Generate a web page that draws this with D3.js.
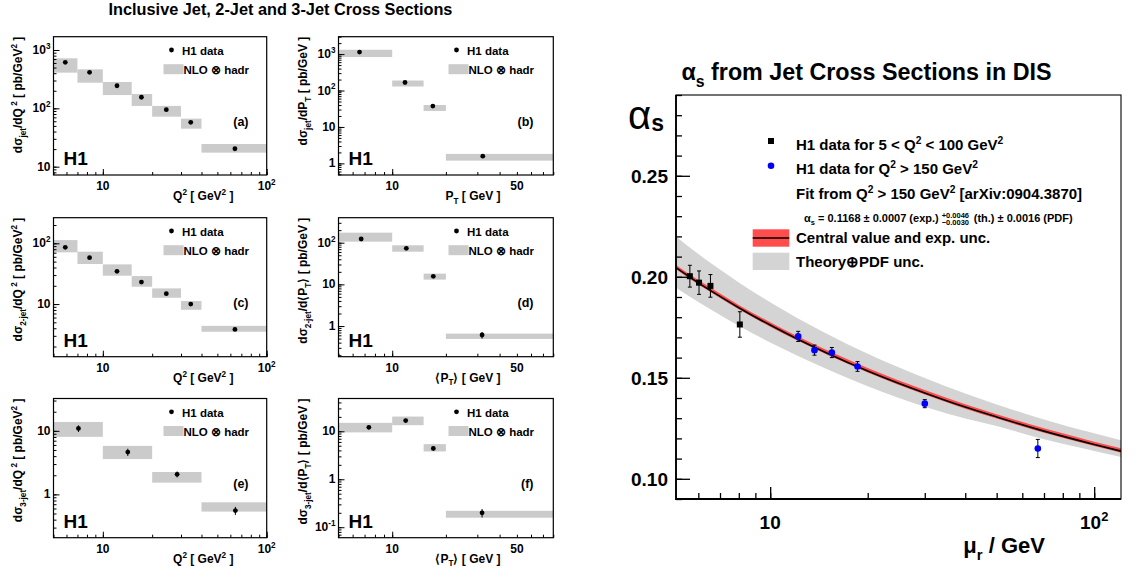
<!DOCTYPE html>
<html>
<head>
<meta charset="utf-8">
<script src="https://cdn.jsdelivr.net/npm/d3@7"></script>
<style>
  body { margin: 0; background: #fff; }
  svg { display: block; font-family: "Liberation Sans", Arial, Helvetica, sans-serif; font-weight: bold; }
  svg text { white-space: pre; }
</style>
</head>
<body>
<svg width="1135" height="572"></svg>
<script>
// ---- data: six cross section panels ----
const q2Bins7 = [5, 7, 10, 15, 20, 30, 40, 100];
const q2Bins4 = [5, 10, 20, 40, 100];
const ptBins4 = [5, 10, 15, 20, 80];

// (a) inclusive jet vs Q2
const jetQ2X = [5.9, 8.3, 12.2, 17.2, 24.4, 34.4, 64];
const jetQ2Data = [615, 414, 244, 155, 95, 57.5, 20.3];
const jetQ2Err = [12, 8, 5, 3, 2, 1.2, 0.5];
const jetQ2NloLo = [409, 275, 169, 110, 72, 44.8, 17.4];
const jetQ2NloHi = [720, 466, 283, 176, 110, 66.5, 24.5];

// (b) inclusive jet vs PT
const jetPtX = [6.56, 11.8, 16.9, 32.2];
const jetPtData = [1135, 166, 37.3, 1.58];
const jetPtErr = [25, 4, 1, 0.06];
const jetPtNloLo = [828, 129, 27.5, 1.19];
const jetPtNloHi = [1313, 188, 40, 1.82];

// (c) 2-jet vs Q2
const dijetQ2X = [5.9, 8.3, 12.2, 17.2, 24.4, 34.4, 64];
const dijetQ2Data = [85.9, 58, 34.6, 23, 14.8, 10, 3.83];
const dijetQ2Err = [2, 1.3, 0.8, 0.5, 0.3, 0.25, 0.1];
const dijetQ2NloLo = [71, 45.6, 29.3, 19.3, 12.7, 8.06, 3.5];
const dijetQ2NloHi = [113, 72.8, 45, 28.9, 18.1, 11.2, 4.38];

// (d) 2-jet vs <PT>
const dijetPtX = [6.7, 12.0, 17.0, 31.9];
const dijetPtData = [122.6, 73.5, 15.6, 0.61];
const dijetPtErr = [4, 3, 0.7, 0.11];
const dijetPtNloLo = [106, 60.8, 13, 0.491];
const dijetPtNloHi = [174, 86.6, 18.1, 0.658];

// (e) 3-jet vs Q2
const trijetQ2X = [7.1, 14.2, 28.4, 64.4];
const trijetQ2Data = [10.9, 4.63, 2.07, 0.555];
const trijetQ2Err = [1.3, 0.6, 0.22, 0.08];
const trijetQ2NloLo = [8.05, 3.6, 1.53, 0.536];
const trijetQ2NloHi = [13.8, 5.8, 2.25, 0.75];

// (f) 3-jet vs <PT>
const trijetPtX = [7.4, 11.9, 17.0, 31.9];
const trijetPtData = [12.1, 16.7, 4.4, 0.2];
const trijetPtErr = [1.2, 1.5, 0.5, 0.04];
const trijetPtNloLo = [9.5, 13.4, 3.8, 0.158];
const trijetPtNloHi = [15, 20.3, 5.4, 0.22];

// ---- data: alpha_s panel ----
const lowQ2Mu = [5.65, 6.03, 6.54, 8.06];
const lowQ2As = [0.2003, 0.1971, 0.1955, 0.1764];
const lowQ2Err = [0.0054, 0.0058, 0.0056, 0.0063];

const highQ2Mu = [12.2, 13.7, 15.5, 18.6, 30.0, 67.0];
const highQ2As = [0.1705, 0.1637, 0.1625, 0.1556, 0.1372, 0.1150];
const highQ2Err = [0.0025, 0.0025, 0.0025, 0.0024, 0.0020, 0.0045];

const fitMu =     [5.12, 6, 7, 8, 10, 12, 15, 20, 30, 40, 50, 70, 100, 121];
const fitAs =     [0.2045, 0.1970, 0.1903, 0.1847, 0.1761, 0.1696, 0.1622, 0.1534, 0.1425, 0.1355, 0.1306, 0.1236, 0.1170, 0.1137];
const fitExpHi =  [0.2059, 0.1984, 0.1917, 0.1861, 0.1775, 0.1710, 0.1636, 0.1548, 0.1439, 0.1369, 0.1320, 0.1250, 0.1184, 0.1151];
const fitExpLo =  [0.2037, 0.1962, 0.1895, 0.1839, 0.1753, 0.1688, 0.1614, 0.1526, 0.1417, 0.1347, 0.1298, 0.1228, 0.1162, 0.1129];
const fitTheoHi = [0.2200, 0.2113, 0.2036, 0.1972, 0.1874, 0.1800, 0.1717, 0.1619, 0.1499, 0.1422, 0.1368, 0.1294, 0.1225, 0.1191];
const fitTheoLo = [0.1946, 0.1875, 0.1811, 0.1758, 0.1675, 0.1613, 0.1542, 0.1458, 0.1357, 0.1299, 0.1261, 0.1196, 0.1138, 0.1108];

const asMajorTicks = [0.10, 0.15, 0.20, 0.25];

const svg = d3.select('svg');

// text with _{sub} and ^{sup} markup
const rich = (sel, str, size) => {
  const re = /([_^])\{([^}]*)\}/g;
  let last = 0, shift = 0, m;
  sel.attr('font-size', size);
  const add = (t, lvl) => {
    if (!t) return;
    const target = lvl === '_' ? size * 0.3 : lvl === '^' ? -size * 0.42 : 0;
    sel.append('tspan')
      .attr('dy', target - shift)
      .attr('font-size', lvl ? size * 0.68 : size)
      .text(t);
    shift = target;
  };
  while ((m = re.exec(str))) {
    add(str.slice(last, m.index), '');
    add(m[2], m[1]);
    last = re.lastIndex;
  }
  add(str.slice(last), '');
  return sel;
};

svg.append('text')
  .attr('x', 280.5)
  .attr('y', 15)
  .attr('text-anchor', 'middle')
  .attr('font-size', 16.3)
  .text('Inclusive Jet, 2-Jet and 3-Jet Cross Sections');

const colQ2 = { left: 53.5, right: 266.7 };
const colPt = { left: 338.5, right: 553.3 };
const rows = [{ top: 36.7, bottom: 175 }, { top: 217.7, bottom: 356.7 }, { top: 398.5, bottom: 537.7 }];

const panels = [
  { col: colQ2, row: rows[0], tag: '(a)', bins: q2Bins7, xs: jetQ2X, ys: jetQ2Data, err: jetQ2Err, lo: jetQ2NloLo, hi: jetQ2NloHi,
    xDomain: [5, 100], yDomain: [7.2, 1690], xLabels: [[10, '10'], [100, '10^{2}']],
    yLabels: [[10, '10'], [100, '10^{2}'], [1000, '10^{3}']],
    yTitle: 'dσ_{jet}/dQ^{ 2} [ pb/GeV^{2} ]', xTitle: 'Q^{2} [ GeV^{2} ]' },
  { col: colPt, row: rows[0], tag: '(b)', bins: ptBins4, xs: jetPtX, ys: jetPtData, err: jetPtErr, lo: jetPtNloLo, hi: jetPtNloHi,
    xDomain: [5, 80], yDomain: [0.48, 3000], xLabels: [[10, '10'], [50, '50']],
    yLabels: [[1, '1'], [10, '10'], [100, '10^{2}'], [1000, '10^{3}']],
    yTitle: 'dσ_{jet}/dP_{T} [ pb/GeV ]', xTitle: 'P_{T} [ GeV ]' },
  { col: colQ2, row: rows[1], tag: '(c)', bins: q2Bins7, xs: dijetQ2X, ys: dijetQ2Data, err: dijetQ2Err, lo: dijetQ2NloLo, hi: dijetQ2NloHi,
    xDomain: [5, 100], yDomain: [1.36, 264], xLabels: [[10, '10'], [100, '10^{2}']],
    yLabels: [[10, '10'], [100, '10^{2}']],
    yTitle: 'dσ_{2-jet}/dQ^{ 2} [ pb/GeV^{2} ]', xTitle: 'Q^{2} [ GeV^{2} ]' },
  { col: colPt, row: rows[1], tag: '(d)', bins: ptBins4, xs: dijetPtX, ys: dijetPtData, err: dijetPtErr, lo: dijetPtNloLo, hi: dijetPtNloHi,
    xDomain: [5, 80], yDomain: [0.184, 398], xLabels: [[10, '10'], [50, '50']],
    yLabels: [[1, '1'], [10, '10'], [100, '10^{2}']],
    yTitle: 'dσ_{2-jet}/d⟨P_{T}⟩ [ pb/GeV ]', xTitle: '⟨P_{T}⟩ [ GeV ]' },
  { col: colQ2, row: rows[2], tag: '(e)', bins: q2Bins4, xs: trijetQ2X, ys: trijetQ2Data, err: trijetQ2Err, lo: trijetQ2NloLo, hi: trijetQ2NloHi,
    xDomain: [5, 100], yDomain: [0.208, 32.3], xLabels: [[10, '10'], [100, '10^{2}']],
    yLabels: [[1, '1'], [10, '10']],
    yTitle: 'dσ_{3-jet}/dQ^{ 2} [ pb/GeV^{2} ]', xTitle: 'Q^{2} [ GeV^{2} ]' },
  { col: colPt, row: rows[2], tag: '(f)', bins: ptBins4, xs: trijetPtX, ys: trijetPtData, err: trijetPtErr, lo: trijetPtNloLo, hi: trijetPtNloHi,
    xDomain: [5, 80], yDomain: [0.0605, 48.3], xLabels: [[10, '10'], [50, '50']],
    yLabels: [[0.1, '10^{-1}'], [1, '1'], [10, '10']],
    yTitle: 'dσ_{3-jet}/d⟨P_{T}⟩ [ pb/GeV ]', xTitle: '⟨P_{T}⟩ [ GeV ]' },
];

const drawPanel = p => {
  const { left, right } = p.col;
  const { top, bottom } = p.row;
  const x = d3.scaleLog().domain(p.xDomain).range([left, right]);
  const y = d3.scaleLog().domain(p.yDomain).range([bottom, top]);
  const g = svg.append('g');

  g.selectAll('rect.nlo').data(p.lo).join('rect')
    .attr('class', 'nlo')
    .attr('x', (d, i) => x(p.bins[i]))
    .attr('width', (d, i) => x(p.bins[i + 1]) - x(p.bins[i]))
    .attr('y', (d, i) => y(p.hi[i]))
    .attr('height', (d, i) => y(d) - y(p.hi[i]))
    .attr('fill', '#cbcbcb');

  g.selectAll('line.err').data(p.ys).join('line')
    .attr('class', 'err')
    .attr('x1', (d, i) => x(p.xs[i]))
    .attr('x2', (d, i) => x(p.xs[i]))
    .attr('y1', (d, i) => y(d + p.err[i]))
    .attr('y2', (d, i) => y(Math.max(d - p.err[i], p.yDomain[0])))
    .attr('stroke', 'black')
    .attr('stroke-width', 1);

  g.selectAll('circle.pt').data(p.ys).join('circle')
    .attr('class', 'pt')
    .attr('cx', (d, i) => x(p.xs[i]))
    .attr('cy', d => y(d))
    .attr('r', 2.4)
    .attr('fill', 'black');

  // ticks: minor then major, pointing inside the frame
  const xMajor = [10, 100].filter(v => v <= p.xDomain[1]);
  const yMajor = y.ticks().filter(v => Math.abs(Math.log10(v) - Math.round(Math.log10(v))) < 1e-9);
  const tickAxis = (axis, vals, size, tr) => g.append('g')
    .attr('transform', tr)
    .call(axis.tickValues(vals).tickSize(-size).tickFormat(''))
    .call(a => a.select('.domain').remove());
  tickAxis(d3.axisBottom(x), x.ticks(), 3, `translate(0,${bottom})`);
  tickAxis(d3.axisBottom(x), xMajor, 6, `translate(0,${bottom})`);
  tickAxis(d3.axisLeft(y), y.ticks(), 3, `translate(${left},0)`);
  tickAxis(d3.axisLeft(y), yMajor, 6, `translate(${left},0)`);

  g.append('rect')
    .attr('x', left).attr('y', top)
    .attr('width', right - left).attr('height', bottom - top)
    .attr('fill', 'none').attr('stroke', 'black').attr('stroke-width', 1.2);

  p.xLabels.forEach(([v, s]) => {
    rich(g.append('text').attr('x', x(v)).attr('y', bottom + 15).attr('text-anchor', 'middle'), s, 12);
  });
  p.yLabels.forEach(([v, s]) => {
    rich(g.append('text').attr('x', left - 3).attr('y', y(v) + 4).attr('text-anchor', 'end'), s, 12);
  });

  rich(g.append('text')
    .attr('transform', `translate(${left - 31.5},${top}) rotate(-90)`)
    .attr('text-anchor', 'end'), p.yTitle, 12);
  rich(g.append('text')
    .attr('x', left + (p.col === colQ2 ? 180 : 162))
    .attr('y', bottom + 25)
    .attr('text-anchor', 'end'), p.xTitle, 12);

  // legend
  g.append('circle').attr('cx', left + 118).attr('cy', top + 13.3).attr('r', 2.4).attr('fill', 'black');
  g.append('text').attr('x', left + 128.5).attr('y', top + 18).attr('font-size', 11.5).text('H1 data');
  g.append('rect').attr('x', left + 110).attr('y', top + 27.5).attr('width', 20).attr('height', 10).attr('fill', '#cbcbcb');
  g.append('text').attr('x', left + 130).attr('y', top + 37).attr('font-size', 11.5).text('NLO ⊗ hadr');

  g.append('text').attr('x', left + 195).attr('y', top + 89).attr('text-anchor', 'end')
    .attr('font-size', 12.5).text(p.tag);
  g.append('text').attr('x', left + 10).attr('y', bottom - 10).attr('font-size', 19).text('H1');
};

panels.forEach(drawPanel);

// ---- alpha_s panel ----
const frame = { left: 676, right: 1121, top: 95, bottom: 499 };
const xMu = d3.scaleLog().domain([5.12, 121]).range([frame.left, frame.right]);
const yAs = d3.scaleLinear().domain([0.09, 0.29]).range([frame.bottom, frame.top]);
const fitIdx = d3.range(fitMu.length);

const ga = svg.append('g');

ga.append('path')
  .attr('d', d3.area()
    .x(i => xMu(fitMu[i]))
    .y0(i => yAs(fitTheoLo[i]))
    .y1(i => yAs(fitTheoHi[i]))
    .curve(d3.curveMonotoneX)(fitIdx))
  .attr('fill', '#d4d4d4');

ga.append('path')
  .attr('d', d3.area()
    .x(i => xMu(fitMu[i]))
    .y0(i => yAs(fitExpLo[i]))
    .y1(i => yAs(fitExpHi[i]))
    .curve(d3.curveMonotoneX)(fitIdx))
  .attr('fill', '#ff4d4d');

ga.append('path')
  .attr('d', d3.line()
    .x(i => xMu(fitMu[i]))
    .y(i => yAs(fitAs[i]))
    .curve(d3.curveMonotoneX)(fitIdx))
  .attr('fill', 'none')
  .attr('stroke', 'black')
  .attr('stroke-width', 1.6);

const errBars = (mus, vals, errs) => {
  mus.forEach((m, i) => {
    const cx = xMu(m);
    const y1 = yAs(vals[i] + errs[i]);
    const y2 = yAs(vals[i] - errs[i]);
    ga.append('line').attr('x1', cx).attr('x2', cx).attr('y1', y1).attr('y2', y2).attr('stroke', 'black').attr('stroke-width', 1);
    [y1, y2].forEach(yy => ga.append('line').attr('x1', cx - 2).attr('x2', cx + 2).attr('y1', yy).attr('y2', yy).attr('stroke', 'black').attr('stroke-width', 1));
  });
};
errBars(lowQ2Mu, lowQ2As, lowQ2Err);
errBars(highQ2Mu, highQ2As, highQ2Err);

ga.selectAll('rect.low').data(lowQ2As).join('rect')
  .attr('class', 'low')
  .attr('x', (d, i) => xMu(lowQ2Mu[i]) - 3)
  .attr('y', d => yAs(d) - 3)
  .attr('width', 6).attr('height', 6)
  .attr('fill', 'black');

ga.selectAll('circle.high').data(highQ2As).join('circle')
  .attr('class', 'high')
  .attr('cx', (d, i) => xMu(highQ2Mu[i]))
  .attr('cy', d => yAs(d))
  .attr('r', 3.3)
  .attr('fill', '#0000ff');

// axes ticks
const tickA = (axis, vals, size, tr) => ga.append('g')
  .attr('transform', tr)
  .call(axis.tickValues(vals).tickSize(-size).tickFormat(''))
  .call(a => a.select('.domain').remove())
  .call(a => a.selectAll('line').attr('stroke-width', 1.3));
tickA(d3.axisBottom(xMu), xMu.ticks(), 6, `translate(0,${frame.bottom})`);
tickA(d3.axisBottom(xMu), [10, 100], 12, `translate(0,${frame.bottom})`);
tickA(d3.axisLeft(yAs), yAs.ticks(20), 6, `translate(${frame.left},0)`);
tickA(d3.axisLeft(yAs), asMajorTicks, 14, `translate(${frame.left},0)`);

ga.append('rect')
  .attr('x', frame.left).attr('y', frame.top)
  .attr('width', frame.right - frame.left).attr('height', frame.bottom - frame.top)
  .attr('fill', 'none').attr('stroke', 'black').attr('stroke-width', 1.1);
ga.append('path')
  .attr('d', `M${frame.left},${frame.top}V${frame.bottom}H${frame.right}`)
  .attr('fill', 'none').attr('stroke', 'black').attr('stroke-width', 1.8);

asMajorTicks.forEach(v => {
  ga.append('text').attr('x', 668).attr('y', yAs(v) + 7).attr('text-anchor', 'end')
    .attr('font-size', 19).text(d3.format('.2f')(v));
});
rich(ga.append('text').attr('x', xMu(10)).attr('y', 529).attr('text-anchor', 'middle'), '10', 19);
rich(ga.append('text').attr('x', xMu(100)).attr('y', 529).attr('text-anchor', 'middle'), '10^{2}', 19);

rich(ga.append('text').attr('x', 1045).attr('y', 553).attr('text-anchor', 'end'), 'μ_{r} / GeV', 22);

const asLabel = ga.append('text').attr('x', 628).attr('y', 129);
asLabel.append('tspan').attr('font-size', 40).attr('font-weight', 'normal').text('α');
asLabel.append('tspan').attr('font-size', 23).attr('dy', 2).text('s');

rich(ga.append('text').attr('x', 866.5).attr('y', 80).attr('text-anchor', 'middle'),
  'α_{s} from Jet Cross Sections in DIS', 23.3);

// legend
ga.append('rect').attr('x', 768).attr('y', 138).attr('width', 6).attr('height', 6).attr('fill', 'black');
rich(ga.append('text').attr('x', 796).attr('y', 150), 'H1 data for 5 < Q^{2} < 100 GeV^{2}', 15);
ga.append('circle').attr('cx', 771).attr('cy', 165.7).attr('r', 3.3).attr('fill', '#0000ff');
rich(ga.append('text').attr('x', 796).attr('y', 174), 'H1 data for Q^{2} > 150 GeV^{2}', 15);
rich(ga.append('text').attr('x', 796).attr('y', 199), 'Fit from Q^{2} > 150 GeV^{2} [arXiv:0904.3870]', 15);

const l4a = rich(ga.append('text').attr('x', 804).attr('y', 221.5), 'α_{s} = 0.1168 ± 0.0007 (exp.)', 11);
const w4 = l4a.node().getComputedTextLength();
const sx = 804 + w4 + 3;
ga.append('text').attr('x', sx).attr('y', 217.5).attr('font-size', 7.5).text('+0.0046');
ga.append('text').attr('x', sx).attr('y', 224.8).attr('font-size', 7.5).text('−0.0030');
rich(ga.append('text').attr('x', sx + 29), ' (th.) ± 0.0016 (PDF)', 11).attr('y', 221.5);

ga.append('rect').attr('x', 752.7).attr('y', 229.3).attr('width', 36.6).attr('height', 17.4).attr('fill', '#ff4d4d');
ga.append('line').attr('x1', 752.7).attr('x2', 789.3).attr('y1', 238).attr('y2', 238).attr('stroke', 'black').attr('stroke-width', 1.6);
ga.append('text').attr('x', 796).attr('y', 243.3).attr('font-size', 15).text('Central value and exp. unc.');
ga.append('rect').attr('x', 752.7).attr('y', 252.7).attr('width', 36.6).attr('height', 17.3).attr('fill', '#d4d4d4');
ga.append('text').attr('x', 796).attr('y', 266.7).attr('font-size', 15).text('Theory⊕PDF unc.');
</script>
</body>
</html>
